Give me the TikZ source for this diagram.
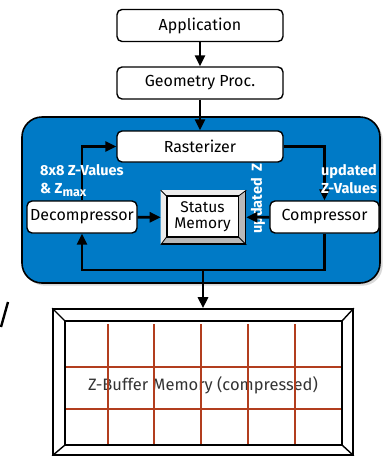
\documentclass[tikz,border=0pt]{standalone}
\usepackage{fontspec}
\setmainfont{Fira Sans}
\usetikzlibrary{arrows.meta,calc,shadows}
\definecolor{panelblue}{RGB}{0,122,198}
\definecolor{gridred}{RGB}{178,62,30}

\begin{document}
\begin{tikzpicture}[x=1pt,y=-1pt,>={Triangle[length=11pt,width=10pt]},
  link/.style={->,line width=2.8pt},
  box/.style={draw,line width=1.4pt,fill=white,rounded corners=5pt,minimum height=32pt,inner sep=0pt,font=\fontsize{16}{17}\selectfont},
  lbl/.style={text=white,font=\fontsize{14.5}{18}\selectfont\bfseries,align=left,inner sep=0pt}]

\useasboundingbox (0,0) rectangle (383,456);

% blue pipeline panel
\filldraw[fill=panelblue,line width=1.6pt,rounded corners=20pt,drop shadow={opacity=0.3}] (22,117) rectangle (380,283);

\node[box,minimum width=166pt] (app) at (200,25.5) {Application};
\node[box,minimum width=166pt] (geo) at (200,83) {Geometry Proc.};

\node[lbl,rotate=90,anchor=west] (zup) at (258,234) {updated\ \ Z};
\node[box,minimum width=166pt,minimum height=31pt] (rast) at (200,146.5) {Rasterizer};
\node[box,minimum width=110pt] (dec) at (82,217) {Decompressor};
\node[box,minimum width=109pt] (comp) at (324.5,217) {Compressor};

% status memory with bevelled frame
\node[draw,line width=1.6pt,fill=gray!55,minimum width=84pt,minimum height=53pt] (stat) at (203.5,217.5) {};
\coordinate (snw) at ($(stat.north west)+(6,6)$);
\coordinate (sse) at ($(stat.south east)+(-8,-8)$);
\fill[gray!15] (stat.north west) -- (stat.north east) -- (sse |- snw) -- (snw) -- (snw |- sse) -- (stat.south west) -- cycle;
\draw[line width=0.8pt] (stat.north west) -- (snw) (stat.north east) -- (sse |- snw)
  (stat.south east) -- (sse) (stat.south west) -- (snw |- sse);
\draw[line width=1.6pt,fill=white] (snw) rectangle (sse);
\node[align=center,inner sep=0pt,font=\fontsize{15.5}{16.5}\selectfont] (statxt) at ($(snw)!0.5!(sse)$) {Status\\Memory};

% z-buffer memory
\node[draw,line width=1.6pt,minimum width=300pt,minimum height=146pt] (zbuf) at (203,382) {};
\coordinate (znw) at ($(zbuf.north west)+(13,13)$);
\coordinate (zse) at ($(zbuf.south east)+(-12,-11)$);
\draw[line width=1.4pt] (zbuf.north west) -- (znw) (zbuf.north east) -- (zse |- znw)
  (zbuf.south east) -- (zse) (zbuf.south west) -- (znw |- zse);
\draw[line width=1.6pt] (znw) rectangle (zse);
\node[font=\fontsize{16.5}{18}\selectfont,text=black!80] (zbtxt) at (203,385) {Z-Buffer Memory (compressed)};
\foreach \gx in {108,154,201,248,295}
  \draw[gridred,line width=1.1pt] (\gx,324) -- (\gx,444);
\foreach \gy in {367,409}
  \draw[gridred,line width=1.1pt] (66,\gy) -- (341,\gy);

% connections
\draw[link] (app) -- (geo);
\draw[link] (geo) -- (rast);
\draw[link] (dec.north) |- (rast.west);
\draw[link] (rast.east) -| (comp.north);
\draw[link] (comp) -- (stat);
\draw[link] (dec) -- (stat);
\coordinate (bus) at (zbuf.north |- 0,270);
\draw[link] (comp.south) |- (bus) -| (dec.south);
\draw[link] (bus) -- (zbuf.north);

\node[lbl,anchor=west] (zin) at (40,181) {8x8 Z-Values\\\& Z\raisebox{-3pt}{\fontsize{12.5}{12}\selectfont max}};
\node[lbl,anchor=west] (zout) at (321,179) {updated\\Z-Values};

\draw[line width=2.4pt] (8,302) -- (1,327);

\end{tikzpicture}
\end{document}
